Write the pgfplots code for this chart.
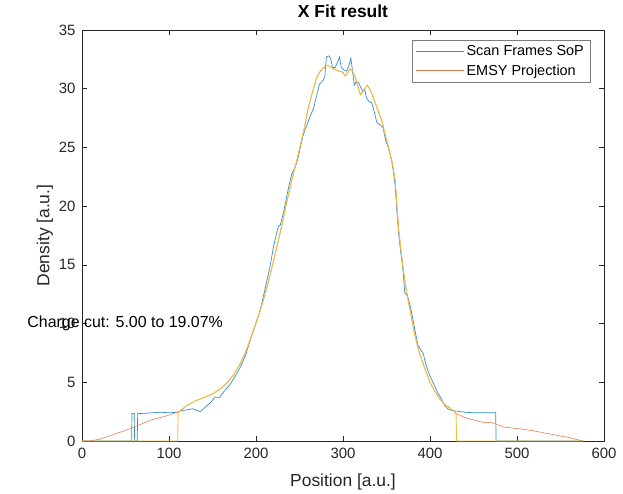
\documentclass[border=0pt]{standalone}
\usepackage{fontspec}
\setmainfont{Liberation Sans}
\usepackage{pgfplots}
\pgfplotsset{compat=1.18}

\definecolor{mblue}{rgb}{0,0.447,0.741}
\definecolor{mred}{rgb}{0.85,0.325,0.098}
\definecolor{myellow}{rgb}{0.929,0.694,0.125}
\definecolor{mgray}{rgb}{0.15,0.15,0.15}

\begin{document}
\begin{tikzpicture}
\begin{axis}[
  scale only axis, width=522bp, height=411bp,
  xmin=0, xmax=600, ymin=0, ymax=35,
  xtick={0,100,...,600}, ytick={0,5,...,35},
  tick align=inside, major tick length=5bp,
  axis line style={mgray, line width=0.5pt},
  tick style={mgray, line width=0.5pt},
  ticklabel style={font=\fontsize{15}{17}\selectfont, text=mgray},
  xticklabel style={yshift=-4bp},
  yticklabel style={xshift=-3bp},
  /pgf/number format/assume math mode=true,
  title={\textbf{X Fit result}},
  title style={font=\fontsize{17.5}{19}\selectfont, at={(axis description cs:0.5,1.03)}, anchor=center},
  xlabel={Position [a.u.]}, ylabel={Density [a.u.]},
  label style={font=\fontsize{17.5}{19}\selectfont, text=mgray},
  xlabel style={at={(axis description cs:0.5,-0.0998)}, anchor=center},
  ylabel style={at={(axis description cs:-0.0709,0.5)}, anchor=center},
  legend style={at={(0.9732,0.9757)}, anchor=north east, draw=mgray!60,
    font=\fontsize{14.5}{16}\selectfont, row sep=4bp, inner xsep=4bp, inner ysep=3bp},
  legend image code/.code={\draw[#1] (0bp,0bp) -- (48bp,0bp);},
  legend cell align=left,
  clip=false,
  every axis plot/.append style={line width=0.7pt},
]
% Scan frames SoP
\addplot[mblue!80!white] coordinates {
(0,0) (57,0) (57.5,2.35) (60,2.35) (60.5,0) (63.5,0) (64,2.35) (70,2.35) (80,2.4)
(90,2.45) (100,2.4) (109,2.45) (115,2.6) (121,2.65) (127,2.75) (132,2.6) (136,2.5)
(142,2.9) (148,3.3) (153,3.75) (158,3.7) (164,4.3) (170,4.8) (176,5.5) (182,6.3)
(188,7.3) (193,8.5) (199,9.8) (205,11.2) (210,12.8) (216,14.8) (220,16.5)
(224,17.8) (226,18.3) (228,18.4) (232,19.6) (235,20.7) (238,21.8) (241,22.7)
(245,23.3) (248,24.0) (251,25.0) (254,26.0) (258,26.8) (262,27.6) (266,28.3)
(270,29.5) (273,30.4) (277,30.7) (279,31.0) (281,32.7) (284,32.8) (286,32.5)
(288,31.8) (291,31.8) (294,32.3) (296,32.7) (298,31.8) (301,31.6) (304,31.5)
(307,32.0) (309,32.6) (311,31.5) (313,30.3) (315,30.6) (318,30.5) (321,30.0)
(323,29.8) (325,29.9) (327,29.2) (330,28.9) (333,28.8) (336,28.0) (339,27.1)
(343,26.9) (346,26.7) (349,25.6) (352,25.0) (356,23.9) (358,22.9) (360,21.7)
(362,19.5) (364,17.6) (366,16.3) (369,14.5) (371,12.6) (374,12.4) (377,11.6)
(380,10.5) (383,9.3) (386,8.2) (389,7.8) (392,7.5) (395,6.6) (399,5.7) (404,4.9)
(409,4.1) (413,3.6) (417,3.0) (421,2.7) (425,2.6) (430,2.55) (440,2.45) (450,2.4)
(460,2.4) (470,2.4) (475.5,2.4) (476,0) (576,0)
};
% EMSY projection (full range)
\addplot[mred!75!white, line width=0.6pt] coordinates {
(0,0) (10,0.02) (20,0.15) (30,0.4) (40,0.65) (50,0.9) (60,1.2) (70,1.5) (80,1.8)
(90,2.0) (100,2.2) (110,2.45) (115,2.7) (120,3.0) (130,3.4) (140,3.7) (150,4.0)
(160,4.5) (166,4.9) (175,5.7) (182,6.6) (189,7.75) (196,9.2) (204,10.9) (212,12.9)
(220,15.3) (228,17.8) (235,20.2) (242,22.5) (247,23.9) (252,25.5) (256,26.8)
(259,28.0) (262,28.9) (266,30.0) (270,31.0) (274,31.5) (278,31.8) (281,32.0)
(285,31.9) (289,31.7) (295,31.5) (300,31.4) (302,31.1) (305,31.3) (308,31.7)
(311,31.5) (314,31.0) (317,30.2) (320,29.5) (324,29.9) (328,30.3) (332,29.8)
(335,29.2) (338,28.6) (341,28.0) (345,27.2) (348,26.2) (351,25.4) (354,24.5)
(357,23.5) (360,22.2) (362,20.0) (364,18.0) (367,16.0) (370,14.2) (374,12.3)
(378,10.8) (382,9.2) (387,7.7) (392,6.6) (396,5.8) (400,5.0) (405,4.3) (411,3.6)
(417,3.1) (423,2.8) (430,2.35) (440,2.0) (450,1.8) (457,1.65) (465,1.55) (470,1.6)
(477,1.4) (484,1.2) (495,1.1) (507,1.0) (520,0.85) (534,0.65) (549,0.43)
(560,0.3) (570,0.1) (576,0)
};
% cut projection
\addplot[myellow!85!white, line width=0.9pt, forget plot] coordinates {
(0,0) (110,0) (110.5,2.45) (115,2.7) (120,3.0) (130,3.4) (140,3.7) (150,4.0)
(160,4.5) (166,4.9) (175,5.7) (182,6.6) (189,7.75) (196,9.2) (204,10.9) (212,12.9)
(220,15.3) (228,17.8) (235,20.2) (242,22.5) (247,23.9) (252,25.5) (256,26.8)
(259,28.0) (262,28.9) (266,30.0) (270,31.0) (274,31.5) (278,31.8) (281,32.0)
(285,31.9) (289,31.7) (295,31.5) (300,31.4) (302,31.1) (305,31.3) (308,31.7)
(311,31.5) (314,31.0) (317,30.2) (320,29.5) (324,29.9) (328,30.3) (332,29.8)
(335,29.2) (338,28.6) (341,28.0) (345,27.2) (348,26.2) (351,25.4) (354,24.5)
(357,23.5) (360,22.2) (362,20.0) (364,18.0) (367,16.0) (370,14.2) (374,12.3)
(378,10.8) (382,9.2) (387,7.7) (392,6.6) (396,5.8) (400,5.0) (405,4.3) (411,3.6)
(417,3.1) (423,2.8) (430,2.35) (430.5,0) (576,0)
};
\legend{Scan Frames SoP, EMSY Projection}
\node[anchor=west, inner sep=0pt, font=\fontsize{16}{18}\selectfont]
  at (axis cs:-63,10) {Charge cut: 5.00 to 19.07\%};
\end{axis}
\pgfresetboundingbox
\path (current axis.south west) ++(-82bp,-53bp) rectangle
  ([xshift=19bp,yshift=30bp]current axis.north east);
\end{tikzpicture}
\end{document}
